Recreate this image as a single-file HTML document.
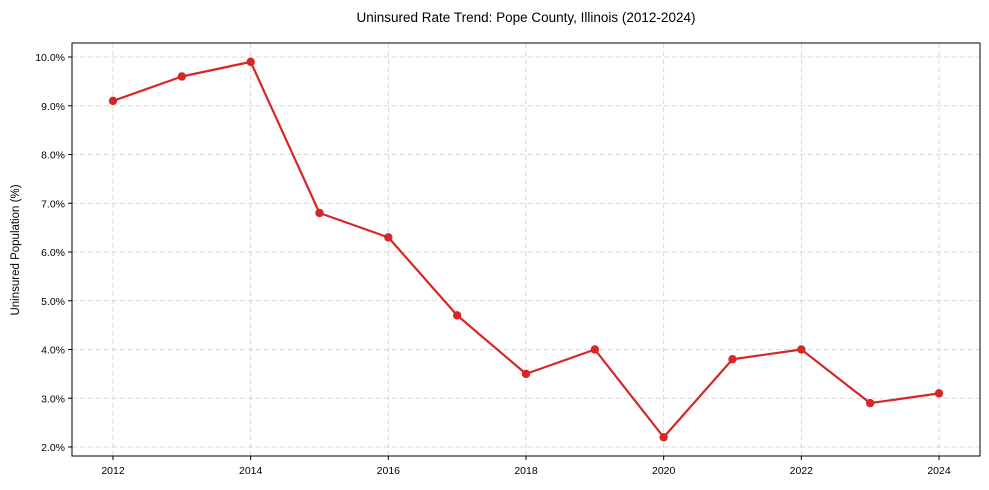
<!DOCTYPE html>
<html><head><meta charset="utf-8"><style>
body{margin:0;background:#fff;}
svg{display:block;font-family:"Liberation Sans",Arial,sans-serif;}
</style></head><body>
<svg id="chart" width="989" height="490">
<text x="526" y="22" text-anchor="middle" font-size="13.5" fill="#000">Uninsured Rate Trend: Pope County, Illinois (2012-2024)</text>
<g id="grid"></g>
<g id="axes"></g>
<g id="series"></g>
<rect x="72" y="43" width="908" height="413" fill="none" stroke="#000" stroke-width="1"/>
<text transform="translate(19,250) rotate(-90)" text-anchor="middle" font-size="11.5" fill="#000">Uninsured Population (%)</text>
</svg>
<script>
const years = [2012,2013,2014,2015,2016,2017,2018,2019,2020,2021,2022,2023,2024];
const rates = [9.1,9.6,9.9,6.8,6.3,4.7,3.5,4.0,2.2,3.8,4.0,2.9,3.1];
const yTicks = [2,3,4,5,6,7,8,9,10];
const xTicks = [2012,2014,2016,2018,2020,2022,2024];

const NS="http://www.w3.org/2000/svg";
function xs(v){return 113+(v-2012)*(939-113)/12;}
function ys(v){return 447-(v-2)*(447-57)/8;}
function mk(tag,attrs,parent){const e=document.createElementNS(NS,tag);for(const k in attrs)e.setAttribute(k,attrs[k]);parent.appendChild(e);return e;}
const grid=document.getElementById('grid'),axes=document.getElementById('axes'),series=document.getElementById('series');
yTicks.forEach(t=>{
  const y=ys(t);
  const g=mk('line',{x1:72,x2:980,y1:y,y2:y,stroke:'#d0d0d0','stroke-dasharray':'5,3','stroke-width':0.8},grid);
  
  
  const tk=mk('line',{x1:68,x2:72,y1:y,y2:y,stroke:'#000'},axes);
  
  
  const tx=mk('text',{x:65,y:y+4,'text-anchor':'end','font-size':10.5,fill:'#000'},axes);
  tx.textContent=t.toFixed(1)+'%';
  
  
});
xTicks.forEach(t=>{
  const x=xs(t);
  const g=mk('line',{x1:x,x2:x,y1:43,y2:456,stroke:'#d0d0d0','stroke-dasharray':'5,3','stroke-width':0.8},grid);
  
  
  const tk=mk('line',{x1:x,x2:x,y1:456,y2:460,stroke:'#000'},axes);
  
  
  const tx=mk('text',{x:x,y:474,'text-anchor':'middle','font-size':10.5,fill:'#000'},axes);
  tx.textContent=t;
  
  
});
const pts=years.map((y,i)=>xs(y)+','+ys(rates[i])).join(' ');
const line=mk('polyline',{points:pts,fill:'none',stroke:'#d62728','stroke-width':2.2,'stroke-linejoin':'round'},series);


years.forEach((y,i)=>{
  const c=mk('circle',{cx:xs(y),cy:ys(rates[i]),r:4.2,fill:'#d62728'},series);
  
  
});
</script>
</body></html>
